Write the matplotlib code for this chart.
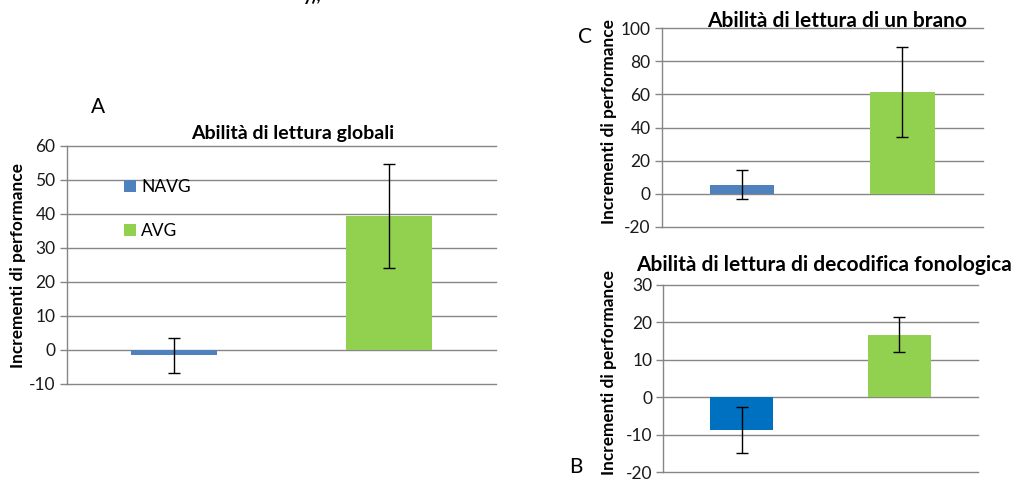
import matplotlib
matplotlib.use("Agg")
import matplotlib.pyplot as plt
from matplotlib.patches import Patch

plt.rcParams['font.family'] = ['Lato', 'DejaVu Sans']
plt.rcParams['axes.unicode_minus'] = False

groups = ["NAVG", "AVG"]

# Panel A: Abilità di lettura globali
a_values = [-1.6, 39.4]
a_errors = [5.1, 15.3]
# Panel C: Abilità di lettura di un brano
c_values = [5.4, 61.6]
c_errors = [8.6, 27.1]
# Panel B: Abilità di lettura di decodifica fonologica
b_values = [-8.8, 16.7]
b_errors = [6.1, 4.7]

a_ticks = [-10, 0, 10, 20, 30, 40, 50, 60]
c_ticks = [-20, 0, 20, 40, 60, 80, 100]
b_ticks = [-20, -10, 0, 10, 20, 30]

W, H = 1015, 479
fig = plt.figure(figsize=(W / 100, H / 100), dpi=100)

GRID = '#868686'
BLUE = '#4F81BD'
BLUE2 = '#0070C0'
GREEN = '#92D050'
YLABEL = "Incrementi di performance"


def add_ax(left, top, right, bottom):
    return fig.add_axes([left / W, 1 - bottom / H, (right - left) / W, (bottom - top) / H])


def style(ax, ticks, values, errors, colors):
    x = list(range(len(values)))
    ax.bar(x, values, width=0.4, color=colors, zorder=2)
    ax.errorbar(x, values, yerr=errors, fmt='none', ecolor='black',
                elinewidth=1, capsize=4, capthick=1, zorder=3)
    ax.set_xlim(-0.5, 1.5)
    ax.set_ylim(ticks[0], ticks[-1])
    ax.set_yticks(ticks)
    ax.set_xticks([])
    for t in ticks:
        ax.axhline(t, color=GRID, lw=1, zorder=1, clip_on=False)
    for s in ['top', 'right', 'bottom']:
        ax.spines[s].set_visible(False)
    ax.spines['left'].set_color(GRID)
    ax.spines['left'].set_linewidth(1)
    ax.tick_params(axis='y', direction='out', length=5, color=GRID, width=1,
                   labelsize=12.5, pad=3, labelcolor='#1a1a1a')
    ax.set_facecolor('none')


# Panel A
axA = add_ax(66.7, 146, 496, 384)
style(axA, a_ticks, a_values, a_errors, [BLUE, GREEN])
fig.text(293 / W, 1 - 133 / H, "Abilità di lettura globali", ha='center', va='center',
         fontsize=14, fontweight='bold')
fig.text(98 / W, 1 - 107 / H, "A", ha='center', va='center', fontsize=15)
fig.text(18 / W, 1 - 266 / H, YLABEL, rotation=90, ha='center', va='center',
         fontsize=12.4, fontweight='bold')
handles = [Patch(facecolor=BLUE, edgecolor='none'), Patch(facecolor=GREEN, edgecolor='none')]
axA.legend(handles, groups, loc='upper left', bbox_to_anchor=(0.133, 0.862),
           frameon=False, fontsize=12.5, handlelength=0.7, handleheight=0.7,
           handletextpad=0.3, labelspacing=1.62, borderpad=0, borderaxespad=0)

# Panel C
axC = add_ax(661.7, 28.3, 982.7, 226.7)
style(axC, c_ticks, c_values, c_errors, [BLUE, GREEN])
fig.text(837 / W, 1 - 21 / H, "Abilità di lettura di un brano", ha='center', va='center',
         fontsize=15, fontweight='bold')
fig.text(585 / W, 1 - 37 / H, "C", ha='center', va='center', fontsize=15)
fig.text(609 / W, 1 - 122 / H, YLABEL, rotation=90, ha='center', va='center',
         fontsize=12.4, fontweight='bold')

# Panel B
axB = add_ax(663.3, 285, 977.7, 472.3)
style(axB, b_ticks, b_values, b_errors, [BLUE2, GREEN])
fig.text(824 / W, 1 - 265 / H, "Abilità di lettura di decodifica fonologica", ha='center',
         va='center', fontsize=15, fontweight='bold')
fig.text(576 / W, 1 - 467 / H, "B", ha='center', va='center', fontsize=15)
fig.text(609 / W, 1 - 373 / H, YLABEL, rotation=90, ha='center', va='center',
         fontsize=12.4, fontweight='bold')

# cut-off text at the very top
fig.text(303 / W, 1 - 1 / H, "y),", ha='left', va='baseline', fontsize=13, fontweight='bold')

fig.savefig("out.png", dpi=100, facecolor='white')
